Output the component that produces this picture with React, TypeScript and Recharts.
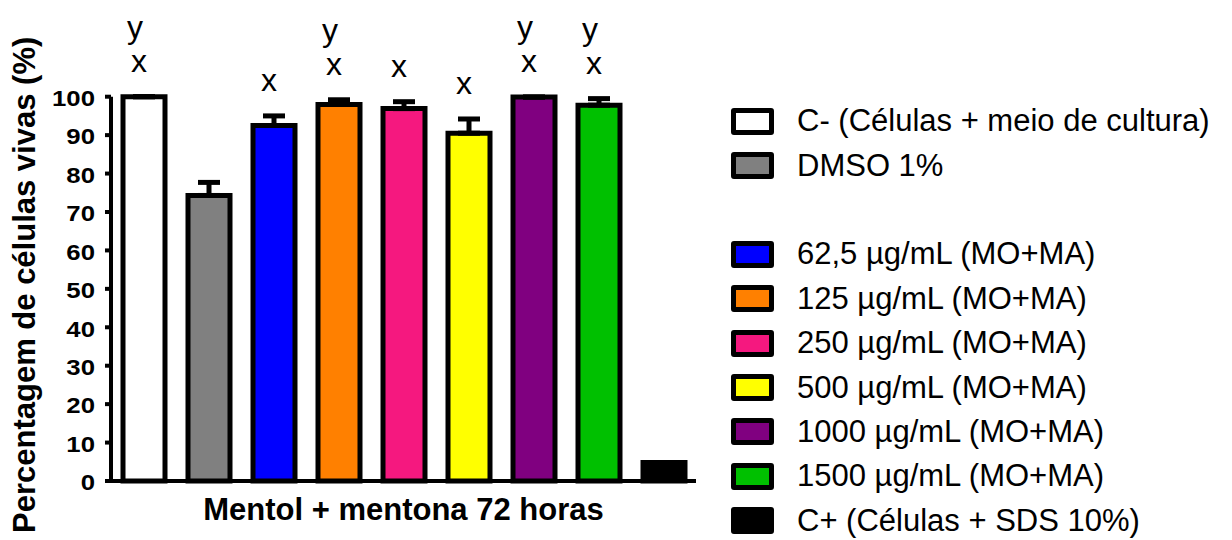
import React from "react";
import {
  BarChart,
  Bar,
  XAxis,
  YAxis,
  Cell,
  ErrorBar,
  LabelList,
  Legend,
} from "recharts";

// Treatment groups, in plotting order
const groups = ["C-", "DMSO", "62,5", "125", "250", "500", "1000", "1500", "C+"];
const legendNames = [
  "C- (Células + meio de cultura)",
  "DMSO 1%",
  "62,5 µg/mL (MO+MA)",
  "125 µg/mL (MO+MA)",
  "250 µg/mL (MO+MA)",
  "500 µg/mL (MO+MA)",
  "1000 µg/mL (MO+MA)",
  "1500 µg/mL (MO+MA)",
  "C+ (Células + SDS 10%)",
];
// Mean viability (%) and upper error (SEM)
const viability = [100, 74.3, 92.5, 98.0, 96.9, 90.5, 99.9, 97.8, 4.8];
const sem = [0, 3.4, 2.5, 1.2, 1.8, 3.7, 0, 1.7, 0];
// Significance letters drawn above each column
const letterX = ["x", "", "x", "x", "x", "x", "x", "x", ""];
const letterY = ["y", "", "", "y", "", "", "y", "y", ""];
const fills = [
  "#FFFFFF",
  "#808080",
  "#0000FF",
  "#FF8000",
  "#F5187F",
  "#FFFF00",
  "#800080",
  "#00C000",
  "#000000",
];
const yTicks = [0, 10, 20, 30, 40, 50, 60, 70, 80, 90, 100];

const FONT = "'Liberation Sans', Arial, sans-serif";

const data = groups.map((g, i) => ({
  group: g,
  value: viability[i],
  err: [0, sem[i]],
}));

const YTick = (props: any) => {
  const { x, y, payload } = props;
  return (
    <g transform={`translate(${x},${y + 1})`}>
      <text
        x={0}
        y={0}
        dy="0.36em"
        textAnchor="end"
        fontFamily={FONT}
        fontWeight="bold"
        fontSize={23}
        fill="#000"
        transform="scale(1.12,1)"
      >
        {payload.value}
      </text>
    </g>
  );
};

const YTitle = (props: any) => {
  const vb = props.viewBox || {};
  const cx = 35;
  const cy = vb.y + vb.height / 2 - 4;
  return (
    <text
      x={cx}
      y={cy}
      transform={`rotate(-90 ${cx} ${cy})`}
      textAnchor="middle"
      fontFamily={FONT}
      fontWeight="bold"
      fontSize={31}
      fill="#000"
    >
      Percentagem de células vivas (%)
    </text>
  );
};

const LetterLabel = (props: any) => {
  const box = props.viewBox ?? props;
  const index = props.index;
  const bx = Number(box.x);
  const by = Number(box.y);
  const bw = Number(box.width);
  const bh = Number(box.height);
  const v = viability[index];
  const pxPerUnit = v ? bh / v : 0;
  const top = by - sem[index] * pxPerUnit;
  const cx = bx + bw / 2 - 5;
  const lx = letterX[index];
  const ly = letterY[index];
  return (
    <g>
      {lx ? (
        <text x={cx} y={top - 25} textAnchor="middle" fontFamily={FONT} fontSize={32} fill="#000">
          {lx}
        </text>
      ) : null}
      {ly ? (
        <text x={cx - 4} y={top - 59} textAnchor="middle" fontFamily={FONT} fontSize={32} fill="#000">
          {ly}
        </text>
      ) : null}
    </g>
  );
};

const renderLegend = () => {
  const rows: React.ReactNode[] = [];
  legendNames.forEach((name, i) => {
    rows.push(
      <div key={name} style={{ display: "flex", alignItems: "center", height: 44.4 }}>
        <div
          style={{
            width: 33,
            height: 17,
            border: "5px solid #000",
            borderRadius: 3,
            background: fills[i],
            marginRight: 23,
            flex: "none",
          }}
        />
        <span style={{ fontFamily: FONT, fontSize: 31, color: "#000", whiteSpace: "nowrap" }}>{name}</span>
      </div>
    );
    // blank line separating the controls from the treated groups
    if (i === 1) rows.push(<div key="gap" style={{ height: 44.4 }} />);
  });
  return <div>{rows}</div>;
};

export default function App() {
  return (
    <div style={{ position: "absolute", left: 0, top: 0, width: 1232, height: 540, background: "#fff" }}>
      <BarChart
        width={1232}
        height={540}
        data={data}
        margin={{ top: 96.7, right: 536, bottom: 0, left: 0 }}
      >
        <XAxis
          dataKey="group"
          height={59}
          tick={false}
          tickLine={false}
          axisLine={{ stroke: "#000", strokeWidth: 4 }}
          label={{
            value: "Mentol + mentona 72 horas",
            position: "insideBottom",
            offset: 20,
            style: { fontFamily: FONT, fontWeight: "bold", fontSize: 31, fill: "#000" },
          }}
        />
        <YAxis
          width={111}
          domain={[0, 100]}
          ticks={yTicks}
          interval={0}
          tickSize={6}
          tickMargin={10}
          tick={<YTick />}
          tickLine={{ stroke: "#000", strokeWidth: 4 }}
          axisLine={{ stroke: "#000", strokeWidth: 4 }}
          label={<YTitle />}
        />
        <Legend
          layout="vertical"
          align="center"
          verticalAlign="middle"
          content={renderLegend}
          wrapperStyle={{ left: 731, top: 99, width: 500, height: 444 }}
        />
        <Bar dataKey="value" barSize={42} stroke="#000" strokeWidth={5} isAnimationActive={false}>
          {data.map((d, i) => (
            <Cell key={d.group} fill={fills[i]} />
          ))}
          <ErrorBar dataKey="err" width={11} stroke="#000" strokeWidth={5} direction="y" isAnimationActive={false} />
          <LabelList dataKey="value" content={<LetterLabel />} />
        </Bar>
      </BarChart>
    </div>
  );
}
